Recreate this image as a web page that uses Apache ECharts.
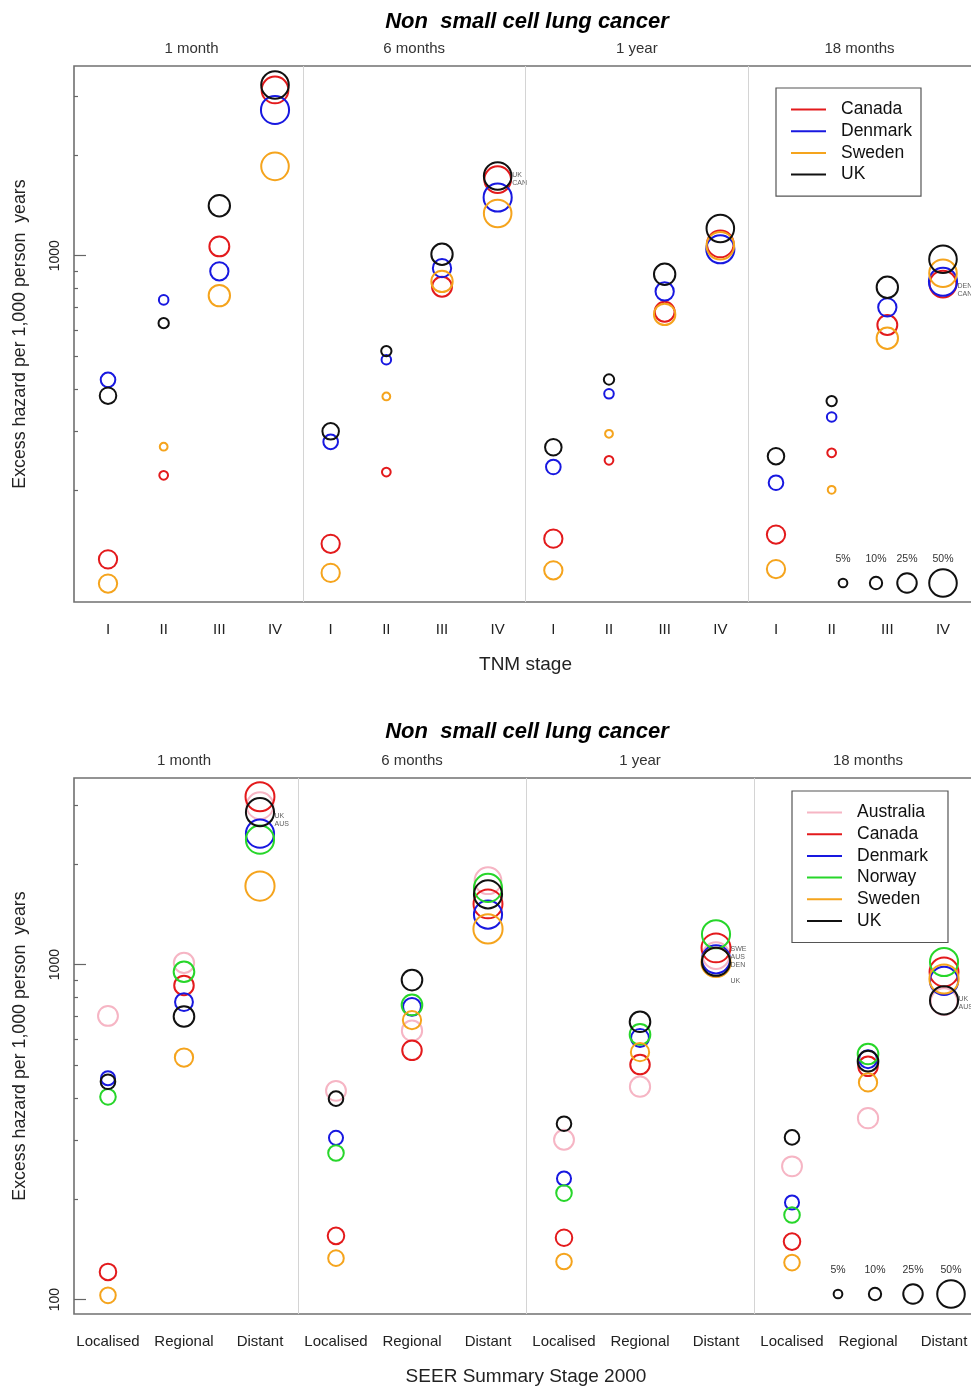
<!DOCTYPE html>
<html>
<head>
<meta charset="utf-8">
<script src="https://cdn.jsdelivr.net/npm/echarts@6/dist/echarts.min.js"></script>
<style>
html, body { margin: 0; padding: 0; background: #fff; }
#chart { width: 971px; height: 1388px; }
</style>
</head>
<body>
<div id="chart"></div>
<script>
// texts
var chartTitle = 'Non  small cell lung cancer';
var yName = 'Excess hazard per 1,000 person  years';
var periods = ['1 month', '6 months', '1 year', '18 months'];
var tnmStages = ['I', 'II', 'III', 'IV'];
var seerStages = ['Localised', 'Regional', 'Distant'];

// top panel (TNM), order: 1 month I..IV, 6 months I..IV, 1 year I..IV, 18 months I..IV
var tnmCountries = ['Canada', 'Denmark', 'Sweden', 'UK'];
var tnmCanada  = [124, 221, 1066, 3125,  138, 226, 808, 1687,  143, 245, 680, 1084,  147, 258, 621, 823];
var tnmDenmark = [426, 738, 898, 2723,   278, 489, 918, 1492,  234, 387, 782, 1045,  210, 330, 701, 836];
var tnmSweden  = [105, 269, 760, 1848,   113, 380, 838, 1336,  115, 294, 668, 1071,  116, 200, 567, 886];
var tnmUK      = [382, 629, 1410, 3233,  299, 519, 1010, 1729, 268, 427, 880, 1205,  252, 368, 805, 976];
// % of cases in each stage (circle size)
var tnmPctCanada  = [22, 5, 26, 47];
var tnmPctDenmark = [14, 6, 22, 52];
var tnmPctSweden  = [22, 4, 30, 50];
var tnmPctUK      = [18, 7, 30, 50];

// bottom panel (SEER), order: 1 month L,R,D, 6 months L,R,D, 1 year L,R,D, 18 months L,R,D
var seerCountries = ['Australia', 'Canada', 'Denmark', 'Norway', 'Sweden', 'UK'];
var seerAustralia = [703, 1012, 2981,  420, 635, 1780,  300, 432, 1064,  250, 348, 775];
var seerCanada    = [121, 867, 3170,   155, 555, 1518,  153, 503, 1122,  149, 497, 951];
var seerDenmark   = [458, 773, 2460,   304, 748, 1410,  230, 604, 1037,  195, 522, 894];
var seerNorway    = [403, 952, 2360,   274, 758, 1694,  208, 619, 1232,  179, 541, 1018];
var seerSweden    = [103, 528, 1716,   133, 683, 1278,  130, 548, 1015,  129, 445, 906];
var seerUK        = [447, 700, 2852,   398, 899, 1621,  335, 675, 1020,  305, 515, 782];
var seerPctAustralia = [26, 27, 47];
var seerPctCanada    = [18, 25, 55];
var seerPctDenmark   = [13, 21, 52];
var seerPctNorway    = [16, 28, 52];
var seerPctSweden    = [16, 22, 56];
var seerPctUK        = [14, 28, 52];

// little country tags next to crowded circles: [x position, value, text]
var tnmNotes = [[8, 1690, 'UK\nCAN'], [16, 790, 'DEN\nCAN']];
var seerNotes = [[3, 2700, 'UK\nAUS'], [9, 1000, 'SWE\nAUS\nDEN\n\nUK'], [12, 768, 'UK\nAUS']];

// axis ticks
var majorTop = [1000];
var majorBottom = [100, 1000];
var minorTicks = [200, 300, 400, 500, 600, 700, 800, 900, 2000, 3000];
var sizeLegendPct = [5, 10, 25, 50];

var colors = {
    Australia: '#f6b5c4',
    Canada: '#e31a1c',
    Denmark: '#1818e0',
    Norway: '#27d62a',
    Sweden: '#f5a41d',
    UK: '#111111'
};

var FONT = 'Liberation Sans';

function symSize(p) { return 3.9 * Math.sqrt(p); }

function makeSeries(name, values, pct, nStage, axisIdx) {
    return {
        name: name,
        type: 'scatter',
        xAxisIndex: axisIdx,
        yAxisIndex: axisIdx,
        data: values.map(function (v, i) { return [i + 1, v, pct[i % nStage]]; }),
        symbolSize: function (d) { return symSize(d[2]); },
        itemStyle: { color: 'rgba(0,0,0,0)', borderColor: colors[name], borderWidth: 2, opacity: 1 },
        emphasis: { disabled: true },
        silent: true
    };
}

var tnmValues = { Canada: tnmCanada, Denmark: tnmDenmark, Sweden: tnmSweden, UK: tnmUK };
var tnmPct = { Canada: tnmPctCanada, Denmark: tnmPctDenmark, Sweden: tnmPctSweden, UK: tnmPctUK };
var seerValues = { Australia: seerAustralia, Canada: seerCanada, Denmark: seerDenmark, Norway: seerNorway, Sweden: seerSweden, UK: seerUK };
var seerPct = { Australia: seerPctAustralia, Canada: seerPctCanada, Denmark: seerPctDenmark, Norway: seerPctNorway, Sweden: seerPctSweden, UK: seerPctUK };

var series = [];
tnmCountries.forEach(function (c) { series.push(makeSeries(c, tnmValues[c], tnmPct[c], 4, 0)); });
seerCountries.forEach(function (c) { series.push(makeSeries(c, seerValues[c], seerPct[c], 3, 2)); });

// grey lines between the time periods
function dividers(nStage) {
    var out = [];
    for (var i = 1; i < periods.length; i++) out.push({ xAxis: i * nStage + 0.5 });
    return out;
}
function noteSeries(notes, axisIdx) {
    return {
        type: 'scatter', xAxisIndex: axisIdx, yAxisIndex: axisIdx, silent: true,
        data: notes, symbolSize: 1, itemStyle: { color: 'rgba(0,0,0,0)' },
        label: {
            show: true, position: 'right', distance: 14,
            formatter: function (p) { return p.data[2]; },
            fontSize: 7, lineHeight: 8, color: '#333', fontFamily: FONT
        },
        markLine: {
            silent: true, symbol: 'none', label: { show: false },
            lineStyle: { color: '#d4d4d4', width: 1, type: 'solid' },
            data: dividers(axisIdx === 0 ? 4 : 3)
        }
    };
}
series.push(noteSeries(tnmNotes, 0));
series.push(noteSeries(seerNotes, 2));

function stageAxis(grid, stages, min, max) {
    var vals = [];
    for (var i = 1; i <= stages.length * periods.length; i++) vals.push(i);
    return {
        type: 'value', gridIndex: grid, min: min, max: max,
        axisLine: { show: false }, axisTick: { show: false }, splitLine: { show: false },
        axisLabel: {
            customValues: vals, margin: 20, fontSize: 15, color: '#222', fontFamily: FONT,
            formatter: function (v) { return stages[(Math.round(v) - 1) % stages.length]; }
        }
    };
}
function periodAxis(grid, nStage, min, max) {
    var vals = periods.map(function (p, i) { return i * nStage + (nStage + 1) / 2; });
    return {
        type: 'value', gridIndex: grid, position: 'top', min: min, max: max,
        axisLine: { show: false }, axisTick: { show: false }, splitLine: { show: false },
        axisLabel: {
            customValues: vals, margin: 10, fontSize: 15, color: '#333', fontFamily: FONT,
            formatter: function (v) { return periods[Math.round((v - (nStage + 1) / 2) / nStage)]; }
        }
    };
}
function majorAxis(grid, ticks, min, max) {
    return {
        type: 'log', logBase: 10, gridIndex: grid, position: 'left', min: min, max: max,
        axisLine: { show: false }, splitLine: { show: false },
        axisTick: { show: true, inside: true, length: 12, customValues: ticks, lineStyle: { color: '#666', width: 1.2 } },
        axisLabel: {
            customValues: ticks, rotate: 90, margin: 12, fontSize: 14, color: '#222', fontFamily: FONT,
            formatter: function (v) { return String(Math.round(v)); }
        },
        name: yName, nameLocation: 'middle', nameRotate: 90, nameGap: 45,
        nameTextStyle: { fontSize: 17.8, color: '#222', fontFamily: FONT }
    };
}
function minorAxis(grid, min, max) {
    return {
        type: 'log', logBase: 10, gridIndex: grid, position: 'left', offset: 0, min: min, max: max,
        axisLine: { show: false }, splitLine: { show: false }, axisLabel: { show: false },
        axisTick: { show: true, inside: true, length: 4, customValues: minorTicks, lineStyle: { color: '#666', width: 1.2 } }
    };
}

var topX = [0.389, 16.611];
var botX = [0.553, 12.447];
var topY = [92.5, 3684];
var botY = [90.6, 3606];

var xAxis = [stageAxis(0, tnmStages, topX[0], topX[1]), periodAxis(0, 4, topX[0], topX[1]),
             stageAxis(1, seerStages, botX[0], botX[1]), periodAxis(1, 3, botX[0], botX[1])];
xAxis[0].name = 'TNM stage';
xAxis[2].name = 'SEER Summary Stage 2000';
[0, 2].forEach(function (i) {
    xAxis[i].nameLocation = 'middle';
    xAxis[i].nameGap = 53;
    xAxis[i].nameTextStyle = { fontSize: 19, color: '#222', fontFamily: FONT };
});
var yAxis = [majorAxis(0, majorTop, topY[0], topY[1]), minorAxis(0, topY[0], topY[1]),
             majorAxis(1, majorBottom, botY[0], botY[1]), minorAxis(1, botY[0], botY[1])];
// series use the major y axis of their grid
series.forEach(function (s) { s.yAxisIndex = s.xAxisIndex === 0 ? 0 : 2; });

function legendData(list) {
    return list.map(function (c) { return { name: c, itemStyle: { color: colors[c] } }; });
}
function legendBox(list, left, top, padRight) {
    return {
        data: legendData(list), orient: 'vertical', left: left, top: top,
        icon: 'rect', itemWidth: 35, itemHeight: 2, itemGap: 1.7,
        itemStyle: { borderWidth: 0 },
        padding: [11.5, padRight, 11.5, 15],
        borderColor: '#555', borderWidth: 1.2, backgroundColor: '#fff',
        selectedMode: false,
        textStyle: { fontSize: 17.5, lineHeight: 20, color: '#111', fontFamily: FONT, padding: [0, 0, 0, 10] }
    };
}

// circle size key, drawn as graphic
function sizeKey(xs, cy, ly) {
    var els = [];
    sizeLegendPct.forEach(function (p, i) {
        els.push({ type: 'circle', shape: { cx: xs[i], cy: cy, r: symSize(p) / 2 },
                   style: { fill: 'none', stroke: '#111', lineWidth: 2 }, silent: true });
        els.push({ type: 'text', x: xs[i], y: ly,
                   style: { text: p + '%', fontSize: 10.5, fill: '#333', font: '10.5px ' + FONT, align: 'center', verticalAlign: 'middle' } });
    });
    return els;
}
function titleText(y) {
    return { type: 'text', x: 527, y: y,
             style: { text: chartTitle, font: 'italic bold 22px ' + FONT, fill: '#000', align: 'center', verticalAlign: 'middle' } };
}

var graphic = [titleText(22), titleText(732)]
    .concat(sizeKey([843, 876, 907, 943], 583, 559))
    .concat(sizeKey([838, 875, 913, 951], 1294, 1270));

var chart = echarts.init(document.getElementById('chart'), null, { renderer: 'canvas' });
chart.setOption({
    animation: false,
    backgroundColor: '#fff',
    textStyle: { fontFamily: FONT },
    grid: [
        { left: 74, top: 66, width: 903, height: 536, outerBoundsMode: 'none', containLabel: false,
          show: true, borderColor: '#707070', borderWidth: 1.6, backgroundColor: 'transparent' },
        { left: 74, top: 778, width: 904, height: 536, outerBoundsMode: 'none', containLabel: false,
          show: true, borderColor: '#707070', borderWidth: 1.6, backgroundColor: 'transparent' }
    ],
    xAxis: xAxis,
    yAxis: yAxis,
    legend: [legendBox(tnmCountries, 776, 88, 9), legendBox(seerCountries, 792, 791, 20)],
    series: series,
    graphic: graphic
});
</script>
</body>
</html>
